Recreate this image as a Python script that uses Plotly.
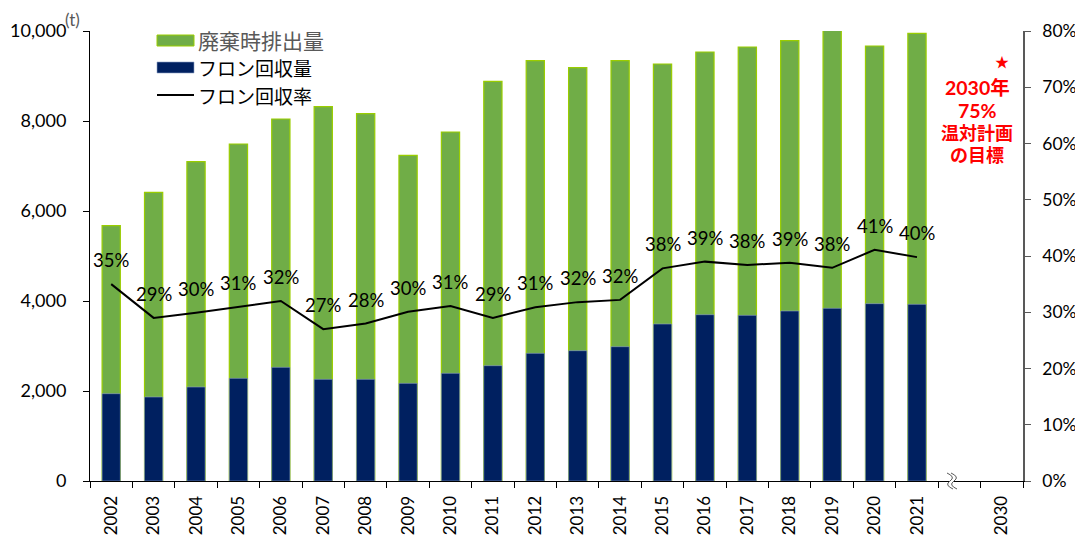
import plotly.graph_objects as go

years = [str(y) for y in range(2002, 2022)]
categories = years + [" ", "2030"]
total_emission = [5673, 6415, 7096, 7489, 8044, 8318, 8163, 7237, 7756, 8881,
                  9341, 9185, 9341, 9267, 9533, 9644, 9785, 10022, 9667, 9948]
recovered = [1941, 1867, 2089, 2281, 2526, 2259, 2259, 2170, 2393, 2563,
             2837, 2896, 2985, 3489, 3696, 3681, 3778, 3837, 3941, 3926]
recovery_rate = [0.350, 0.290, 0.299, 0.310, 0.320, 0.270, 0.280, 0.301, 0.311, 0.290,
                 0.309, 0.318, 0.322, 0.378, 0.390, 0.384, 0.388, 0.379, 0.411, 0.398]
legend_names = ["廃棄時排出量", "フロン回収量", "フロン回収率"]
target_lines = ["2030年", "75%", "温対計画", "の目標"]

FONT = "Lato, 'Noto Sans CJK JP', sans-serif"
JP = "'Noto Sans CJK JP', Lato, sans-serif"

GREEN = "#70AD47"
GREEN_EDGE = "#9ACD00"
NAVY = "#002060"

# page body has an 8px margin; plot area is placed at x 90..1023, y 31..481 on screen
OFF = 8
W, H = 1083 - OFF, 538 - OFF
L, R, T, B = 90 - OFF, 60, 31 - OFF, 57
PW = W - L - R
PH = H - T - B


def px(xpix):
    return (xpix - 90) / PW


def py(ypix):
    return (481 - ypix) / PH


fig = go.Figure()
fig.add_trace(go.Bar(
    x=years, y=total_emission, name=legend_names[0],
    marker=dict(color=GREEN, line=dict(color=GREEN_EDGE, width=1.2)),
))
fig.add_trace(go.Bar(
    x=years, y=recovered, name=legend_names[1],
    marker=dict(color=NAVY, line=dict(color="#8FA2C6", width=0.6)),
))
fig.add_trace(go.Scatter(
    x=years, y=recovery_rate, name=legend_names[2], mode="lines",
    line=dict(color="black", width=2), yaxis="y2",
))

annotations = []
for i, r in enumerate(recovery_rate):
    annotations.append(dict(
        x=i, y=r, xref="x", yref="y2", text=f"{round(r*100)}%", showarrow=False,
        yshift=24, xanchor="center", yanchor="middle",
        font=dict(family=FONT, size=18.5, color="black"),
    ))

annotations.append(dict(x=px(72), y=py(19), xref="paper", yref="paper", text="(t)",
                        xanchor="center", yanchor="middle",
                        showarrow=False, font=dict(family=FONT, size=17, color="#595959")))
annotations.append(dict(x=px(1002), y=py(61), xref="paper", yref="paper", text="★",
                        xanchor="center", yanchor="middle",
                        showarrow=False, font=dict(family=JP, size=14, color="#FF0000")))
for txt, yy, s in zip(target_lines, [87, 110, 133, 155], [19.5, 19.5, 18, 18]):
    annotations.append(dict(x=px(977), y=py(yy), xref="paper", yref="paper",
                            text=f"<b>{txt}</b>", xanchor="center", yanchor="middle",
                            showarrow=False,
                            font=dict(family=FONT, size=s, color="#FF0000")))

# manual legend
leg_y = [40, 68, 95]
leg_colors = ["#595959", "black", "black"]
leg_sizes = [21, 19, 19]
for name, yy, c, s in zip(legend_names, leg_y, leg_colors, leg_sizes):
    annotations.append(dict(x=px(196), y=py(yy), xref="paper", yref="paper", text=name,
                            xanchor="left", yanchor="middle", showarrow=False,
                            font=dict(family=JP, size=s, color=c)))

shapes = [
    dict(type="rect", xref="paper", yref="paper", x0=px(157), x1=px(194),
         y0=py(46), y1=py(35), fillcolor=GREEN, line=dict(color=GREEN_EDGE, width=1)),
    dict(type="rect", xref="paper", yref="paper", x0=px(157), x1=px(194),
         y0=py(73), y1=py(62), fillcolor=NAVY, line=dict(color="#8FA2C6", width=0.6)),
    dict(type="line", xref="paper", yref="paper", x0=px(157), x1=px(194),
         y0=py(95), y1=py(95), line=dict(color="black", width=2)),
]

# axis break symbol
xb = px(952)
shapes += [
    dict(type="path", xref="paper", yref="paper", xsizemode="pixel", ysizemode="pixel",
         xanchor=xb, yanchor=0,
         path="M -5,8 Q 4,4 -2,0 Q -8,-4 1,-8 L 5,-8 Q -4,-4 2,0 Q 8,4 -1,8 Z",
         fillcolor="white", line=dict(width=0), layer="above"),
    dict(type="path", xref="paper", yref="paper", xsizemode="pixel", ysizemode="pixel",
         xanchor=xb, yanchor=0,
         path="M -5,8 Q 4,4 -2,0 Q -8,-4 1,-8",
         line=dict(color="#595959", width=1), layer="above"),
    dict(type="path", xref="paper", yref="paper", xsizemode="pixel", ysizemode="pixel",
         xanchor=xb, yanchor=0,
         path="M -1,8 Q 8,4 2,0 Q -4,-4 5,-8",
         line=dict(color="#595959", width=1), layer="above"),
]

fig.update_layout(
    width=W, height=H,
    margin=dict(l=L, r=R, t=T, b=B, autoexpand=False),
    paper_bgcolor="white", plot_bgcolor="white",
    barmode="overlay", bargap=0.57,
    showlegend=False,
    xaxis=dict(type="category", categoryorder="array", categoryarray=categories,
               range=[-0.5, len(categories) - 0.5], automargin=False,
               showline=True, linecolor="black", linewidth=1,
               ticks="outside", ticklen=6, tickcolor="black", tickson="boundaries",
               tickangle=-90, tickfont=dict(family=FONT, size=17, color="black"),
               ticklabelstandoff=7,
               showgrid=False, zeroline=False),
    yaxis=dict(range=[0, 10000], dtick=2000, tickformat=",", automargin=False,
               showline=True, linecolor="black", linewidth=1,
               ticks="outside", ticklen=6, tickcolor="black",
               tickfont=dict(family=FONT, size=18, color="black"),
               ticklabelstandoff=13,
               showgrid=False, zeroline=False),
    yaxis2=dict(range=[0, 0.8], dtick=0.1, tickformat=".0%", overlaying="y", side="right",
                automargin=False,
                showline=True, linecolor="#595959", linewidth=1.5,
                ticks="outside", ticklen=6, tickcolor="#595959",
                tickfont=dict(family=FONT, size=17.5, color="black"),
                ticklabelstandoff=8,
                showgrid=False, zeroline=False),
    annotations=annotations,
    shapes=shapes,
)

fig.write_html("out.html")
